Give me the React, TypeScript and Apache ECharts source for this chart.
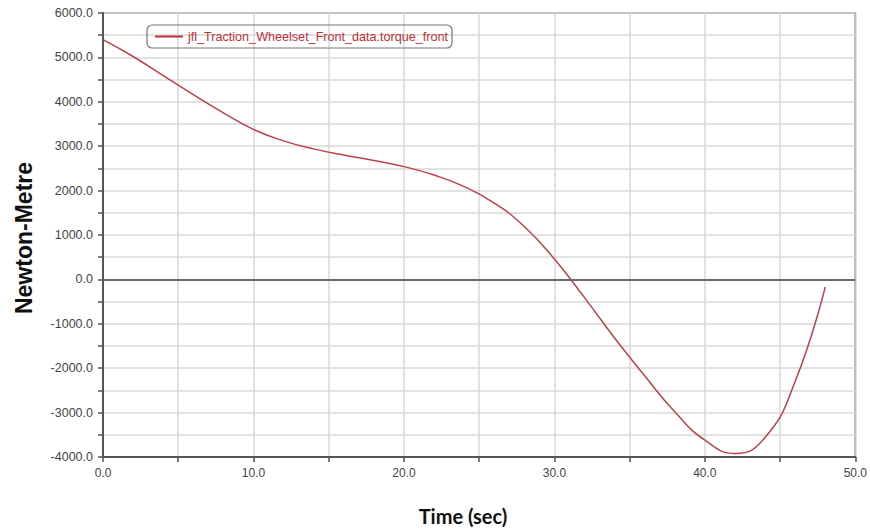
import React, { useEffect, useRef } from "react";
import * as echarts from "echarts";

const timeSec = [0, 2, 4, 6, 8, 10, 12, 14, 16, 18, 20, 22, 24, 26, 28, 30, 32, 34, 36, 38, 40, 42, 44, 46, 48];
const torqueFront = [5400, 5020, 4590, 4160, 3750, 3380, 3120, 2940, 2800, 2680, 2540, 2350, 2090, 1720, 1190, 460, -410, -1320, -2170, -2980, -3620, -3920, -3560, -2300, -170];
const seriesName = "jfl_Traction_Wheelset_Front_data.torque_front";
const xTitle = "Time (sec)";
const yTitle = "Newton-Metre";

export default function App() {
  const ref = useRef<HTMLDivElement>(null);
  useEffect(() => {
    if (!ref.current) return;
    const chart = echarts.init(ref.current, null, { renderer: "svg" });
    const data = timeSec.map((t, i) => [t, torqueFront[i]]);
    const labelFont = "'Liberation Sans', Arial, sans-serif";
    chart.setOption({
      animation: false,
      backgroundColor: "#ffffff",
      grid: {
        left: 103,
        right: 13,
        top: 13,
        bottom: 72,
        show: true,
        borderColor: "#666",
        borderWidth: 1.5,
        backgroundColor: "transparent",
      },
      legend: {
        show: true,
        left: 147,
        top: 25,
        padding: [5, 4, 5, 8],
        borderColor: "#777",
        borderWidth: 1.2,
        borderRadius: 5,
        itemWidth: 28,
        itemHeight: 2,
        itemGap: 4,
        icon: "rect",
        textStyle: { color: "#c0303a", fontSize: 12.6, fontFamily: labelFont },
        data: [seriesName],
      },
      xAxis: {
        type: "value",
        min: 0,
        max: 50,
        interval: 10,
        axisLine: { show: true, onZero: false, lineStyle: { color: "#555", width: 2 } },
        axisTick: { show: true, length: 5, lineStyle: { color: "#555", width: 1.5 } },
        minorTick: { show: true, splitNumber: 2, length: 5, lineStyle: { color: "#555", width: 1.5 } },
        splitLine: { show: true, lineStyle: { color: "#d9d9d9", width: 1.5 } },
        minorSplitLine: { show: true, lineStyle: { color: "#d9d9d9", width: 1.5 } },
        axisLabel: {
          color: "#444",
          fontSize: 12,
          fontFamily: labelFont,
          margin: 10,
          formatter: (v: number) => v.toFixed(1),
        },
      },
      yAxis: {
        type: "value",
        min: -4000,
        max: 6000,
        interval: 1000,
        axisLine: { show: true, onZero: false, lineStyle: { color: "#555", width: 2 } },
        axisTick: { show: true, length: 5, lineStyle: { color: "#555", width: 1.5 } },
        minorTick: { show: true, splitNumber: 2, length: 5, lineStyle: { color: "#555", width: 1.5 } },
        splitLine: { show: true, lineStyle: { color: "#d9d9d9", width: 1.5 } },
        minorSplitLine: { show: true, lineStyle: { color: "#d9d9d9", width: 1.5 } },
        axisLabel: {
          color: "#444",
          fontSize: 12.5,
          fontFamily: labelFont,
          margin: 10,
          formatter: (v: number) => v.toFixed(1),
        },
      },
      series: [
        {
          name: seriesName,
          type: "line",
          data,
          smooth: 0.5,
          showSymbol: false,
          symbol: "none",
          lineStyle: { color: "#b8434a", width: 1.5 },
          itemStyle: { color: "#c0303a" },
          markLine: {
            silent: true,
            symbol: "none",
            label: { show: false },
            lineStyle: { color: "#6a6a6a", width: 2.2, type: "solid" },
            data: [{ yAxis: 0 }],
          },
        },
      ],
      graphic: [
        {
          type: "text",
          x: 463,
          y: 516,
          style: {
            text: xTitle,
            font: "bold 20px Lato, 'Open Sans', sans-serif",
            fill: "#111",
            textAlign: "center",
            textVerticalAlign: "middle",
          },
        },
        {
          type: "text",
          x: 24,
          y: 238,
          rotation: Math.PI / 2,
          style: {
            text: yTitle,
            font: "bold 23px 'Liberation Sans', Arial, sans-serif",
            fill: "#111",
            textAlign: "center",
            textVerticalAlign: "middle",
          },
        },
      ],
    });
    return () => chart.dispose();
  }, []);
  return (
    <div
      ref={ref}
      style={{ position: "fixed", left: 0, top: 0, width: 870, height: 529 }}
    />
  );
}
